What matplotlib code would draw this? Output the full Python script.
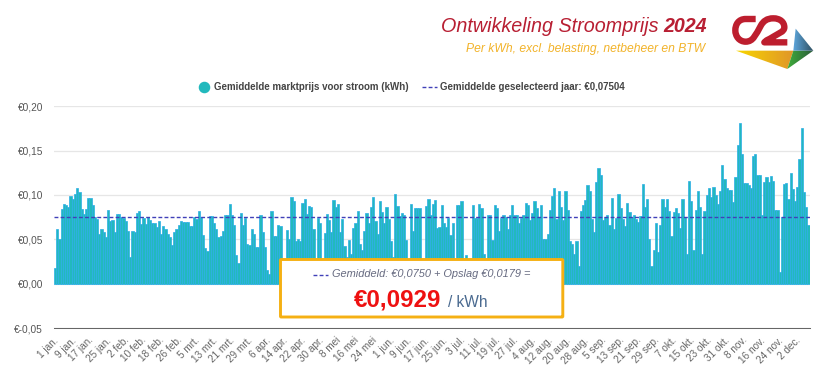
#!/usr/bin/env python
# coding: utf-8
import numpy as np
import matplotlib
matplotlib.use("Agg")
import matplotlib.pyplot as plt
from matplotlib.lines import Line2D
from matplotlib.patches import FancyBboxPatch, Polygon, PathPatch
from matplotlib.path import Path
from matplotlib.transforms import ScaledTranslation

plt.rcParams['font.family'] = ['Liberation Sans', 'DejaVu Sans']

# daily price per kWh (values under the box are guesses)
prices_part1 = [.018, .062, .051, .084, .090, .0885, .086, .099, .096, .101,
                .108, .103, .084, .079, .084, .097, .097, .0885, .075, .073,
                .0565, .062, .058, .053, .083, .071, .072, .058, .079, .079,
                .075, .074, .0705, .060, .030, .059, .058, .080, .0825, .067,
                .0745, .067, .075, .0715, .068, .0685, .064, .0705, .056, .065,
                .0615, .0565, .053, .0435, .058, .0615, .066, .071, .0695, .0695,
                .0695, .065, .065, .0755, .0725, .0825, .0755, .0545, .0405, .0365,
                .076, .076, .068, .0615, .053, .054, .060, .077, .077, .0895,
                .078, .066, .032, .0235, .0795, .0665, .0745, .045, .0435, .062,
                .056, .042, .042, .077, .058, .0415, .016, .011]
prices_part2 = [.0825, .0535, .0535, .0665, .065, .02, .02, .0605, .051, .0975,
                .0935, .048, .051, .048, .0915, .095, .079, .088, .0865, .062,
                .025, .0745, .069, .02, .057, .079, .0715, .0585, .094, .0865,
                .090, .058, .0725, .0425, .03, .0495, .034, .063, .068, .0825,
                .0445, .0375, .059, .080, .0685, .086, .098, .0705, .056, .093,
                .081, .068, .086, .0725, .048, .03, .1015, .088, .0765, .0795,
                .077, .049, .02, .090, .060, .0855, .0855, .0855, .02, .02,
                .0875, .095, .077, .090, .0945, .063, .064, .089, .0685, .064,
                .0745, .0545, .0685, .02, .0885, .0885, .0935, .02, .032, .02,
                .02, .089, .074, .074, .090, .085, .033, .02, .077, .077,
                .049, .089, .0855, .060, .074, .077, .0755, .0615, .077, .0885,
                .078, .077, .068, .074, .077, .0915, .089, .0715, .080, .0935,
                .085, .0755]
prices_part3 = [.0885, .05, .05, .0565, .083, .0985, .108, .0725, .105, .0865,
                .0715, .105, .0835, .0485, .045, .033, .048, .0205, .0825, .0885,
                .094, .111, .105, .0725, .058, .1145, .130, .123, .0715, .0755,
                .078, .066, .0965, .0615, .074, .1015, .0855, .0725, .065, .091,
                .0805, .0755, .077, .0725, .0695, .076, .1125, .0865, .095, .051,
                .0195, .038, .068, .036, .0665, .095, .086, .095, .0825, .0535,
                .0805, .085, .080, .063, .095, .0755, .033, .116, .093, .038,
                .083, .105, .087, .034, .0825, .1005, .108, .098, .1085, .100,
                .0895, .105, .134, .118, .108, .106, .1055, .092, .1205, .156,
                .181, .1465, .113, .113, .111, .1075, .144, .146, .1225, .123,
                .078, .1145, .120, .1145, .1215, .1155, .083, .083, .013, .0755,
                .112, .113, .0955, .1245, .107, .0935, .1085, .1405, .175, .103,
                .0865, .066]
prices = np.array(prices_part1 + prices_part2 + prices_part3)

mean_price = 0.07504
y_ticks = [-0.05, 0, 0.05, 0.10, 0.15, 0.20]
y_labels = ['€-0,05', '€0,00', '€0,05', '€0,10', '€0,15', '€0,20']
x_labels = ['1 jan.', '9 jan.', '17 jan.', '25 jan.', '2 feb.', '10 feb.', '18 feb.', '26 feb.',
            '5 mrt.', '13 mrt.', '21 mrt.', '29 mrt.', '6 apr.', '14 apr.', '22 apr.', '30 apr.',
            '8 mei', '16 mei', '24 mei', '1 jun.', '9 jun.', '17 jun.', '25 jun.', '3 jul.',
            '11 jul.', '19 jul.', '27 jul.', '4 aug.', '12 aug.', '20 aug.', '28 aug.', '5 sep.',
            '13 sep.', '21 sep.', '29 sep.', '7 okt.', '15 okt.', '23 okt.', '31 okt.', '8 nov.',
            '16 nov.', '24 nov.', '2 dec.']

W, H = 838, 382
TEAL = '#22b9bd'
BLUE = '#2bade8'
DASH = '#4040b8'
DASHES = (2.8, 1.6)

fig = plt.figure(figsize=(W / 100, H / 100), dpi=100, facecolor='white')

# axes placed so that 0,20 and -0,05 land on the picture's gridlines
left, right, top, bottom = 54, 809.5, 106.2, 328.2
ax = fig.add_axes([left / W, 1 - bottom / H, (right - left) / W, (bottom - top) / H])

days = np.arange(len(prices))
ax.bar(days, prices, width=1.0, color=TEAL, edgecolor=BLUE, linewidth=0.5, zorder=2)
ax.axhline(mean_price, color=DASH, lw=1.0, dashes=DASHES, zorder=3)

ax.set_xlim(-0.5, 341.5)
ax.set_ylim(-0.05, 0.20)
ax.set_yticks(y_ticks, y_labels, fontsize=7.3, color='#555555')
ax.set_xticks(days[::8][:len(x_labels)], x_labels, rotation=45, ha='right',
              rotation_mode='anchor', fontsize=7.2, color='#666666')
ax.tick_params(axis='both', length=0)
ax.tick_params(axis='y', pad=7.8)
ax.tick_params(axis='x', pad=5)
shift = ScaledTranslation(-2 / 100, 0, fig.dpi_scale_trans)
for lab in ax.get_xticklabels():
    lab.set_transform(lab.get_transform() + shift)
ax.grid(axis='y', color='#e6e6e6', lw=0.9, zorder=1)
ax.set_axisbelow(True)
for side in ['top', 'right', 'left']:
    ax.spines[side].set_visible(False)
ax.spines['bottom'].set_color('#666666')
ax.spines['bottom'].set_linewidth(0.75)

handles = [Line2D([], [], ls='none', marker='o', ms=7.3, color=TEAL),
           Line2D([], [], color=DASH, lw=1.0, dashes=DASHES)]
names = ['Gemiddelde marktprijs voor stroom (kWh)', 'Gemiddelde geselecteerd jaar: €0,07504']
ax.legend(handles, names, ncols=2, frameon=False, loc='center', handlelength=1.45,
          bbox_to_anchor=((410.5 - left) / (right - left), (bottom - 87.5) / (bottom - top)),
          prop={'size': 7.05, 'weight': 'bold'}, labelcolor='#444444',
          columnspacing=1.42, handletextpad=0.3, borderaxespad=0, borderpad=0)

# overlay in pixel coordinates for the header, logo and the box
over = fig.add_axes([0, 0, 1, 1], zorder=5)
over.set_xlim(0, W)
over.set_ylim(H, 0)
over.axis('off')
over.patch.set_alpha(0)

over.text(707, 32, '2024', style='italic', weight='bold', fontsize=14.1, color='#b81f33',
          ha='right', va='baseline')
over.text(658, 32, 'Ontwikkeling Stroomprijs', style='italic', fontsize=14.2, color='#b81f33',
          ha='right', va='baseline')
over.text(705, 52, 'Per kWh, excl. belasting, netbeheer en BTW', style='italic', fontsize=8.7,
          color='#f2b32a', ha='right', va='baseline')

over.add_patch(FancyBboxPatch((280.5, 259.5), 282.3, 57.5, boxstyle='round,pad=0,rounding_size=0.8',
                              facecolor='white', edgecolor='#f5b013', lw=2.1))
over.add_line(Line2D([313, 328], [274.5, 274.5], color=DASH, lw=1.0, dashes=DASHES))
over.text(332, 277.3, 'Gemiddeld: €0,0750 + Opslag €0,0179 =', style='italic', fontsize=7.95,
          color='#666a80', va='baseline')
over.text(354, 307, '€0,0929', weight='bold', fontsize=17.4, color='#ee1111', va='baseline')
over.text(448, 307, '/ kWh', fontsize=11.2, color='#4a6a90', va='baseline')


def logo_xy(points):
    pts = np.array(points, dtype=float)
    return np.column_stack([725 + pts[:, 0] / 3, 8 + pts[:, 1] / 3])


def gradient_poly(points, c0, c1, extent):
    cmap = matplotlib.colors.LinearSegmentedColormap.from_list('g', [c0, c1])
    im = over.imshow(np.linspace(0, 1, 64).reshape(1, -1), cmap=cmap, extent=extent,
                     aspect='auto', zorder=2)
    poly = Polygon(logo_xy(points), closed=True, transform=over.transData, fc='none', ec='none')
    over.add_patch(poly)
    im.set_clip_path(poly)


red_pts = [(92, 33), (62, 33), (40, 33), (31, 50), (31, 67), (31, 85), (43, 101), (62, 101),
           (85, 101), (92, 80), (108, 52), (115, 40), (125, 31), (145, 31), (165, 31), (178, 42),
           (178, 58), (178, 72), (160, 76), (145, 86), (135, 92), (125, 97), (118, 103), (187, 103)]
red_codes = [Path.MOVETO, Path.LINETO] + [Path.CURVE4] * 18 + [Path.LINETO] * 4
over.add_patch(PathPatch(Path(logo_xy(red_pts), red_codes), fc='none', ec='#bd1e2e', lw=4.6,
                         capstyle='butt', joinstyle='round', zorder=3))
gradient_poly([(33, 128), (205, 128), (187, 183)], '#f7d500', '#e0952a', (736, 794, 69, 49))
gradient_poly([(205, 128), (187, 183), (265, 128)], '#3fae3a', '#2a5a3a', (787, 814, 69, 49))
gradient_poly([(212, 62), (265, 128), (205, 128)], '#5da6dd', '#2f4f5f', (793, 814, 51, 28))
over.set_xlim(0, W)
over.set_ylim(H, 0)

fig.savefig('out.png', dpi=100)
